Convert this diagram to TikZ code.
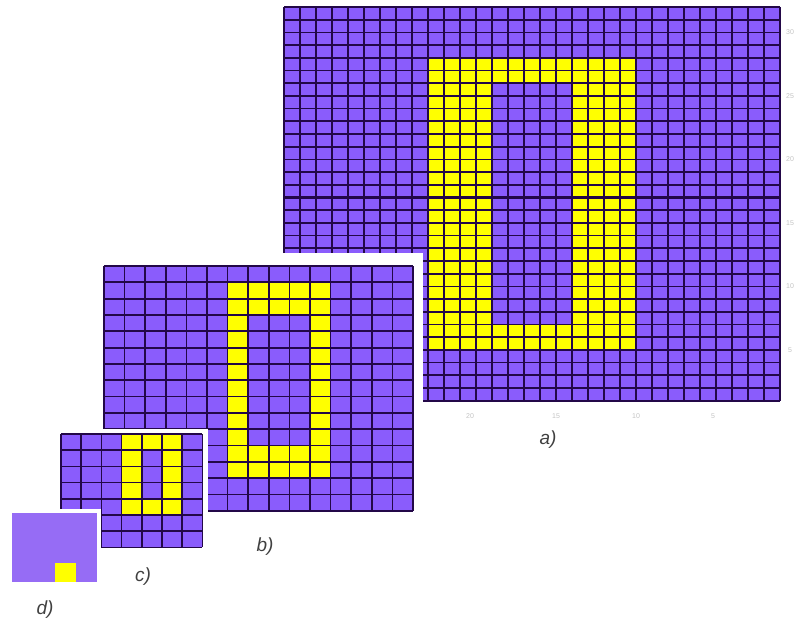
\documentclass[tikz,border=0pt]{standalone}
\usepackage{fontspec}
\setmainfont{Liberation Sans}
\definecolor{pur}{RGB}{138,92,252}
\definecolor{dpur}{RGB}{150,108,245}
\definecolor{yel}{RGB}{255,255,0}
\definecolor{gl}{RGB}{35,8,72}
\definecolor{faint}{RGB}{195,195,195}
\begin{document}
\begin{tikzpicture}[x=1pt,y=-1pt,
  gline/.style={draw=gl,line width=1.7pt},
  thick gline/.style={draw=gl,line width=2.4pt},
  frame/.style={fill=white},
  lab/.style={font=\fontsize{19}{19}\selectfont\itshape,text=black!75,inner sep=0pt},
  tick/.style={font=\fontsize{7}{7}\selectfont,text=faint,inner sep=0pt}]
\useasboundingbox (0,0) rectangle (805,626);
% ---------------- a) 31 x 31 ----------------
\coordinate (a0) at (284,7);
\fill[pur] (284,7) rectangle (780,400.7);
\fill[yel] (428,57.8) rectangle (636,349.9);
\fill[pur] (492,83.2) rectangle (572,324.5);
\foreach \i in {0,...,31} \draw[gline] (284+16*\i,7) -- (284+16*\i,400.7);
\foreach \j in {0,...,31} \draw[gline] (284,7+12.7*\j) -- (780,7+12.7*\j);
\foreach \i in {6,14,22,30} \draw[thick gline] (284+16*\i,7) -- (284+16*\i,400.7);
\foreach \j in {7,15,23} \draw[thick gline] (284,7+12.7*\j) -- (780,7+12.7*\j);
\node[tick] (ar1) at (790,32.4) {30};
\node[tick] (ar2) at (790,95.9) {25};
\node[tick] (ar3) at (790,159.4) {20};
\node[tick] (ar4) at (790,222.9) {15};
\node[tick] (ar5) at (790,286.4) {10};
\node[tick] (ar6) at (790,349.9) {5};
\node[tick] (ab1) at (470,416) {20};
\node[tick] (ab2) at (556,416) {15};
\node[tick] (ab3) at (636,416) {10};
\node[tick] (ab4) at (713,416) {5};
\node[lab] (la) at (548,440) {a)};
% ---------------- b) 15 x 15 ----------------
\fill[frame] (94,253) rectangle (423,523);
\fill[pur] (104,266) rectangle (413,511);
\fill[yel] (227.6,282.3) rectangle (330.6,478.3);
\fill[pur] (248.2,315) rectangle (310,445.7);
\foreach \i in {0,...,15} \draw[gline] (104+20.6*\i,266) -- (104+20.6*\i,511);
\foreach \j in {0,...,15} \draw[gline] (104,266+16.33*\j) -- (413,266+16.33*\j);
\node[lab] (lb) at (265,547) {b)};
% ---------------- c) 7 x 7 ----------------
\fill[frame] (56,429) rectangle (208,553);
\fill[pur] (61,434) rectangle (202.4,547.4);
\fill[yel] (121.6,434) rectangle (182.2,515);
\fill[pur] (141.8,450.2) rectangle (162,498.8);
\foreach \i in {0,...,7} \draw[gline] (61+20.2*\i,434) -- (61+20.2*\i,547.4);
\foreach \j in {0,...,7} \draw[gline] (61,434+16.2*\j) -- (202.4,434+16.2*\j);
\node[lab] (lc) at (143,577) {c)};
% ---------------- d) 1 pixel ----------------
\fill[frame] (8,509) rectangle (101,586);
\fill[dpur] (12,513) rectangle (97,582);
\fill[yel] (55,563) rectangle (76,582);
\node[lab] (ld) at (45,610) {d)};
\end{tikzpicture}
\end{document}
